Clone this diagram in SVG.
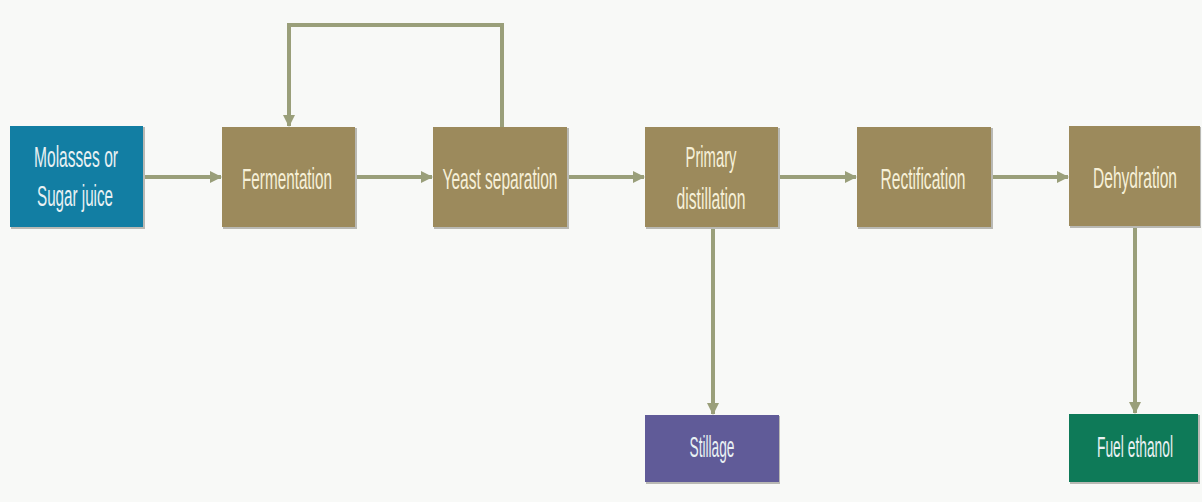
<svg xmlns="http://www.w3.org/2000/svg" width="1202" height="502" viewBox="0 0 1202 502">
<defs>
<marker id="ah" markerUnits="userSpaceOnUse" markerWidth="12" markerHeight="12" viewBox="0 0 12 12" refX="11" refY="6" orient="auto">
<path d="M0,0 L12,6 L0,12 Z" fill="#9a9f7a"/>
</marker>
<style>
.bg{fill:#f8f9f7}
.box{stroke:none}
.shadow{fill:#b9b9b4}
.brown{fill:#9c8a5c}
.teal{fill:#127ea3}
.purple{fill:#605b98}
.green{fill:#0e7a58}
.t{font-family:"Liberation Sans",Arial,sans-serif;font-size:30px;text-anchor:middle;fill:#f6f0d8}
.tw{fill:#e9f1f3}
.conn{fill:none;stroke:#9a9f7a;stroke-width:4}
</style>
</defs>
<rect class="bg" x="0" y="0" width="1202" height="502"/>
<g id="connectors">
<line class="conn" x1="143" y1="177" x2="221" y2="177" marker-end="url(#ah)"/>
<line class="conn" x1="355" y1="177" x2="432" y2="177" marker-end="url(#ah)"/>
<line class="conn" x1="567" y1="177" x2="644" y2="177" marker-end="url(#ah)"/>
<line class="conn" x1="778" y1="177" x2="856" y2="177" marker-end="url(#ah)"/>
<line class="conn" x1="991" y1="177" x2="1068" y2="177" marker-end="url(#ah)"/>
<polyline class="conn" points="502,127 502,25 289,25 289,126" marker-end="url(#ah)"/>
<line class="conn" x1="713" y1="227" x2="713" y2="414" marker-end="url(#ah)"/>
<line class="conn" x1="1135" y1="226" x2="1135" y2="413" marker-end="url(#ah)"/>
</g>
<g id="molasses">
<rect class="shadow" x="11" y="127" width="134" height="102"/>
<rect class="box teal" x="10" y="126" width="133" height="101"/>
<text class="t tw" transform="translate(76,167) scale(0.5,1)" textLength="168" lengthAdjust="spacingAndGlyphs">Molasses or</text>
<text class="t tw" transform="translate(75,206) scale(0.5,1)" textLength="152" lengthAdjust="spacingAndGlyphs">Sugar juice</text>
</g>
<g id="fermentation">
<rect class="shadow" x="223" y="128" width="134" height="101"/>
<rect class="box brown" x="222" y="127" width="133" height="100"/>
<text class="t" transform="translate(287,189) scale(0.5,1)" textLength="180" lengthAdjust="spacingAndGlyphs">Fermentation</text>
</g>
<g id="yeast">
<rect class="shadow" x="434" y="128" width="135" height="101"/>
<rect class="box brown" x="433" y="127" width="134" height="100"/>
<text class="t" transform="translate(500,189) scale(0.5,1)" textLength="230" lengthAdjust="spacingAndGlyphs">Yeast separation</text>
</g>
<g id="primary">
<rect class="shadow" x="646" y="128" width="134" height="101"/>
<rect class="box brown" x="645" y="127" width="133" height="100"/>
<text class="t" transform="translate(711,167) scale(0.5,1)" textLength="102" lengthAdjust="spacingAndGlyphs">Primary</text>
<text class="t" transform="translate(711,209) scale(0.5,1)" textLength="138" lengthAdjust="spacingAndGlyphs">distillation</text>
</g>
<g id="rectification">
<rect class="shadow" x="858" y="128" width="135" height="101"/>
<rect class="box brown" x="857" y="127" width="134" height="100"/>
<text class="t" transform="translate(923,189) scale(0.5,1)" textLength="170" lengthAdjust="spacingAndGlyphs">Rectification</text>
</g>
<g id="dehydration">
<rect class="shadow" x="1070" y="127" width="131" height="101"/>
<rect class="box brown" x="1069" y="126" width="131" height="100"/>
<text class="t" transform="translate(1135,188) scale(0.5,1)" textLength="168" lengthAdjust="spacingAndGlyphs">Dehydration</text>
</g>
<g id="stillage">
<rect class="shadow" x="646" y="416" width="134" height="68"/>
<rect class="box purple" x="645" y="415" width="134" height="67"/>
<text class="t tw" transform="translate(712,457) scale(0.5,1)" textLength="90" lengthAdjust="spacingAndGlyphs">Stillage</text>
</g>
<g id="fuel">
<rect class="shadow" x="1070" y="415" width="130" height="69"/>
<rect class="box green" x="1069" y="414" width="129" height="68"/>
<text class="t tw" transform="translate(1135,457) scale(0.5,1)" textLength="152" lengthAdjust="spacingAndGlyphs">Fuel ethanol</text>
</g>
</svg>
